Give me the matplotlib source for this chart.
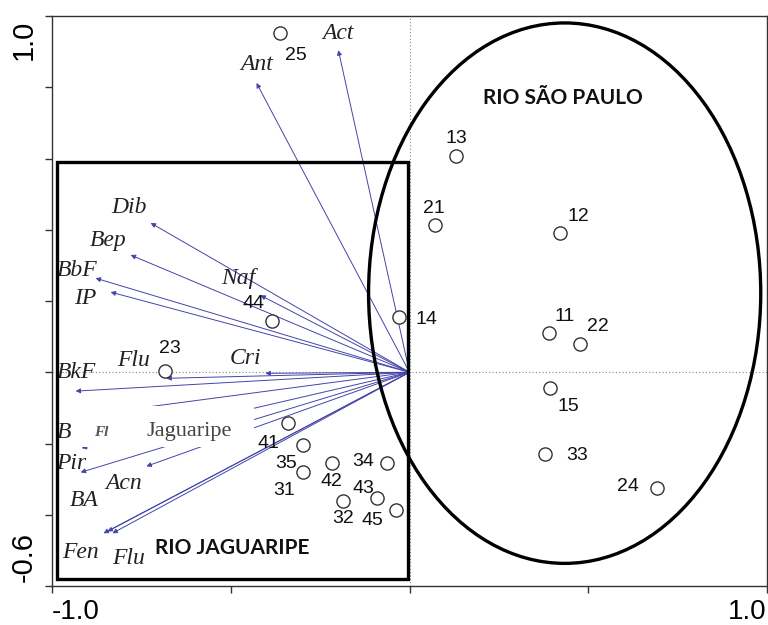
import matplotlib
matplotlib.use("Agg")
import matplotlib.pyplot as plt
from matplotlib.patches import Rectangle, Ellipse

# sample scores (sites)
sites = ["25", "13", "21", "12", "14", "11", "22", "15", "33", "24",
         "44", "23", "41", "35", "31", "42", "34", "43", "32", "45"]
site_x = [-0.361, 0.131, 0.070, 0.422, -0.028, 0.389, 0.478, 0.394, 0.378, 0.691,
          -0.386, -0.683, -0.341, -0.299, -0.299, -0.218, -0.064, -0.092, -0.185, -0.039]
site_y = [0.952, 0.607, 0.413, 0.390, 0.154, 0.109, 0.079, -0.045, -0.230, -0.326,
          0.143, 0.003, -0.143, -0.205, -0.281, -0.256, -0.256, -0.354, -0.360, -0.388]

# variable loadings (PAH compounds)
vars_ = ["Act", "Ant", "Dib", "Bep", "BbF", "IP", "Naf", "Cri", "Flu", "BkF",
         "Fl", "B", "Pir", "Acn", "BA", "Fen", "Flu"]
var_x = [-0.199, -0.428, -0.724, -0.780, -0.878, -0.836, -0.417, -0.403, -0.680, -0.934,
         -0.842, -0.917, -0.920, -0.736, -0.845, -0.856, -0.831]
var_y = [0.904, 0.812, 0.419, 0.329, 0.264, 0.225, 0.216, -0.003, -0.017, -0.053,
         -0.112, -0.213, -0.281, -0.264, -0.447, -0.452, -0.452]

# label offsets in pixels (dx, dy screen-down)
site_off = [(15, 22), (0, -18), (-1, -17), (18, -17), (27, 2), (16, -17), (17, -18),
            (18, 18), (32, 1), (-29, -2), (-18, -18), (5, -23), (-19, 20), (-17, 18),
            (-19, 18), (0, 18), (-23, -2), (-13, -10), (0, 18), (-23, 10)]
var_off = [(0, -17), (0, -18), (-22, -15), (-22, -15), (-19, -8), (-25, 6), (-22, -17),
           (-20, -15), (-33, -18), (1, -19), (-7, 20), (-18, -16), (-9, -9), (-23, 17),
           (-23, -31), (-23, 19), (16, 25)]

fig = plt.figure(figsize=(7.68, 6.25), dpi=100)
ax = fig.add_axes([52 / 768, 39 / 625, 715 / 768, 570 / 625])
ax.set_xlim(-1.0, 1.0)
ax.set_ylim(-0.6, 1.0)

ax.axhline(0, color="#888888", lw=0.8, ls=(0, (1, 2)), zorder=1)
ax.axvline(0, color="#888888", lw=0.8, ls=(0, (1, 2)), zorder=1)

# arrows
for name, x, y, (dx, dy) in zip(vars_, var_x, var_y, var_off):
    ax.annotate("", xy=(x, y), xytext=(0, 0),
                arrowprops=dict(arrowstyle="-|>", color="#4444aa", lw=0.7,
                                mutation_scale=7, shrinkA=0, shrinkB=0),
                zorder=2)
    fs = 11 if name == "Fl" else 17
    z = 6 if name == "Fl" else 3
    ax.annotate(name, xy=(x, y), xytext=(dx, -dy), textcoords="offset pixels",
                ha="center", va="center", fontsize=fs, family="Liberation Serif",
                style="italic", color="#555555" if name == "Fl" else "#222222",
                zorder=z, fontweight="bold" if name == "Fl" else "normal")

# white box that hides part of the arrows
ax.add_patch(Rectangle((-0.937, -0.211), 0.501, 0.1155, facecolor="white",
                       edgecolor="none", zorder=5))
ax.text(-0.615, -0.167, "Jaguaripe", ha="center", va="center", fontsize=16,
        family="Liberation Serif", color="#444444", zorder=6)

# sites
ax.plot(site_x, site_y, "o", mfc="white", mec="#333333", ms=9.5, mew=1.0,
        ls="none", zorder=4)
for s, x, y, (dx, dy) in zip(sites, site_x, site_y, site_off):
    ax.annotate(s, xy=(x, y), xytext=(dx, -dy), textcoords="offset pixels",
                ha="center", va="center", fontsize=14, family="Liberation Sans",
                color="#111111", zorder=4)

# groups
ax.add_patch(Rectangle((-0.987, -0.581), 0.984, 1.171, fill=False,
                       edgecolor="black", lw=2.4, zorder=7))
ax.add_patch(Ellipse((0.434, 0.222), 1.097, 1.517, fill=False,
                     edgecolor="black", lw=2.4, zorder=7))
ax.text(0.43, 0.770, "RIO SÃO PAULO", ha="center", va="center", fontsize=15,
        family="Lato", fontweight="bold", color="#111111")
ax.text(-0.495, -0.492, "RIO JAGUARIPE", ha="center", va="center", fontsize=15,
        family="Lato", fontweight="bold", color="#111111")

# axes
ax.set_xticks([-1.0, -0.5, 0.0, 0.5, 1.0])
ax.set_yticks([-0.6, -0.4, -0.2, 0.0, 0.2, 0.4, 0.6, 0.8, 1.0])
ax.set_xticklabels([])
ax.set_yticklabels([])
ax.tick_params(direction="out", length=5, width=1, color="#333333")
for sp in ax.spines.values():
    sp.set_color("#333333")
    sp.set_linewidth(1.0)

xt = ax.get_xaxis_transform()
yt = ax.get_yaxis_transform()
ax.text(-1.0, -0.058, "-1.0", transform=xt, ha="left", va="baseline", fontsize=20,
        family="Liberation Sans")
ax.text(1.0, -0.058, "1.0", transform=xt, ha="right", va="baseline", fontsize=20,
        family="Liberation Sans")
ax.text(-0.02, 0.99, "1.0", transform=yt, ha="right", va="top", rotation=90,
        fontsize=21, family="Liberation Sans")
ax.text(-0.02, -0.59, "-0.6", transform=yt, ha="right", va="bottom", rotation=90,
        fontsize=21, family="Liberation Sans")

fig.savefig("out.png", dpi=100)
